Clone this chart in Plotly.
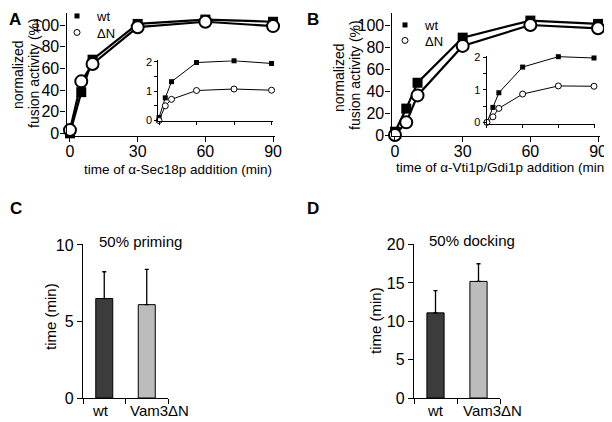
import plotly.graph_objects as go

# time points (min)
time_min = [0, 5, 10, 30, 60, 90]

# panel A: alpha-Sec18p addition, normalized fusion (%)
a_wt = [0, 38, 68, 101, 105, 103]
a_dn = [3, 48, 64, 98, 103, 99]
# panel A inset (raw fusion units)
a_inset_wt = [0.1, 0.77, 1.32, 1.97, 2.03, 1.94]
a_inset_dn = [0.0, 0.5, 0.72, 1.02, 1.07, 1.03]

# panel B: alpha-Vti1p/Gdi1p addition
b_wt = [3, 24, 47.5, 88.5, 104, 101]
b_dn = [0, 11.5, 36, 81, 100, 97]
b_inset_wt = [0.0, 0.46, 0.91, 1.70, 2.02, 1.98]
b_inset_dn = [0.0, 0.17, 0.43, 0.87, 1.12, 1.11]

# panels C and D: time to 50% (min)
strains = ["wt", "Vam3ΔN"]
priming_mean = [6.5, 6.1]
priming_err = [1.75, 2.3]
docking_mean = [11.1, 15.2]
docking_err = [2.9, 2.3]

W, H = 612, 422
OFF = 8  # page margin around the plot div
FONT = "Liberation Sans, Arial, sans-serif"
bar_colors = ["#3c3c3c", "#bcbcbc"]


# screen pixel -> paper fraction
def px(x):
    return (x - OFF) / W


def py(y):
    return 1 - (y - OFF) / H


fig = go.Figure()


def add_curves(xa, ya, wt, dn, big, legends=None):
    lw = 2.2 if big else 1
    for vals in (wt, dn):
        fig.add_trace(go.Scatter(x=time_min, y=vals, mode="lines", xaxis=xa, yaxis=ya,
                                 line=dict(color="black", width=lw), showlegend=False,
                                 hoverinfo="skip", cliponaxis=False))
    fig.add_trace(go.Scatter(
        x=time_min, y=wt, mode="markers", xaxis=xa, yaxis=ya, name="wt",
        marker=dict(symbol="square", size=10 if big else 5, color="black"),
        showlegend=legends is not None, legend=legends[0] if legends else "legend",
        cliponaxis=False))
    fig.add_trace(go.Scatter(
        x=time_min, y=dn, mode="markers", xaxis=xa, yaxis=ya, name="ΔN",
        marker=dict(symbol="circle", size=12 if big else 6, color="white",
                    line=dict(color="black", width=2 if big else 1)),
        showlegend=legends is not None, legend=legends[1] if legends else "legend",
        cliponaxis=False))


# legends take their (small) symbols from the inset traces
add_curves("x", "y", a_wt, a_dn, True)
add_curves("x2", "y2", a_inset_wt, a_inset_dn, False, ("legend", "legend3"))
add_curves("x3", "y3", b_wt, b_dn, True)
add_curves("x4", "y4", b_inset_wt, b_inset_dn, False, ("legend2", "legend4"))

for xa, ya, means, errs in (("x5", "y5", priming_mean, priming_err),
                            ("x6", "y6", docking_mean, docking_err)):
    fig.add_trace(go.Bar(
        x=strains, y=means, xaxis=xa, yaxis=ya, width=0.4, showlegend=False,
        marker=dict(color=bar_colors, line=dict(color="black", width=1)),
        error_y=dict(type="data", array=errs, symmetric=False,
                     arrayminus=[0, 0], color="black", thickness=1.3, width=2)))

axis_common = dict(showline=True, linecolor="black", linewidth=1.3, ticks="outside",
                   tickcolor="black", ticklen=5, tickwidth=1.3, showgrid=False,
                   zeroline=False, tickfont=dict(size=16, color="black"))
inset_common = dict(showline=True, linecolor="black", linewidth=1, ticks="outside",
                    tickcolor="black", ticklen=3, tickwidth=1, showgrid=False,
                    zeroline=False, tickfont=dict(size=11, color="black"))
main_x = dict(axis_common, range=[-1.5, 91], tickvals=[0, 30, 60, 90],
              ticklabelstandoff=-4)
main_y = dict(axis_common, tickvals=[0, 20, 40, 60, 80, 100], ticklabelstandoff=-2)
inset_y = dict(inset_common, tickvals=[0, 0.5, 1, 1.5, 2],
               ticktext=["0", "", "1", "", "2"])
bar_x = dict(axis_common, type="category", tickson="boundaries", range=[-0.5, 1.5],
             showticklabels=False)

legend_style = dict(xanchor="left", yanchor="top", bgcolor="rgba(0,0,0,0)",
                    font=dict(size=13))

fig.update_layout(
    width=W, height=H, margin=dict(l=0, r=0, t=0, b=0, autoexpand=False),
    paper_bgcolor="white", plot_bgcolor="rgba(0,0,0,0)",
    font=dict(family=FONT, color="black", size=14),
    # panel A
    xaxis=dict(main_x, domain=[px(66.6), px(275.3)], anchor="y"),
    yaxis=dict(main_y, domain=[py(135.5), py(13.1)], range=[-2, 111], anchor="x"),
    xaxis2=dict(inset_common, domain=[px(158.4), px(272.8)], range=[-0.5, 91],
                tickvals=[0, 30, 60, 90], showticklabels=False, anchor="y2"),
    yaxis2=dict(inset_y, domain=[py(121.1), py(60.2)], range=[-0.02, 2.05],
                anchor="x2"),
    # panel B
    xaxis3=dict(main_x, domain=[px(391.6), px(600.3)], anchor="y3"),
    yaxis3=dict(main_y, domain=[py(136.1), py(12.9)], range=[-1, 111], anchor="x3"),
    xaxis4=dict(inset_common, domain=[px(486.6), px(595.2)], range=[-0.3, 91],
                tickvals=[0, 30, 60, 90], showticklabels=False, anchor="y4"),
    yaxis4=dict(inset_y, domain=[py(124.3), py(55.7)], range=[-0.06, 2.05],
                anchor="x4"),
    # panel C
    xaxis5=dict(bar_x, domain=[px(83), px(168)], anchor="y5"),
    yaxis5=dict(axis_common, domain=[py(398), py(244.2)], range=[0, 10.05],
                tickvals=[0, 5, 10], anchor="x5"),
    # panel D
    xaxis6=dict(bar_x, domain=[px(414), px(500)], anchor="y6"),
    yaxis6=dict(axis_common, domain=[py(398), py(244.2)], range=[0, 20.05],
                tickvals=[0, 5, 10, 15, 20], anchor="x6"),
    legend=dict(legend_style, x=px(57), y=py(1)),
    legend3=dict(legend_style, x=px(57), y=py(17.5)),
    legend2=dict(legend_style, x=px(385), y=py(10)),
    legend4=dict(legend_style, x=px(385), y=py(25.5)),
)

notes = [
    ("A", 15, 8, 17, 0, True, "top"),
    ("B", 313, 8, 17, 0, True, "top"),
    ("C", 16, 208, 17, 0, True, "middle"),
    ("D", 313, 208, 17, 0, True, "middle"),
    ("normalized", 18, 75, 14, -90, False, "middle"),
    ("fusion activity (%)", 34, 73, 14, -90, False, "middle"),
    ("normalized", 339, 78, 14, -90, False, "middle"),
    ("fusion activity (%)", 355, 75, 14, -90, False, "middle"),
    ("time of α-Sec18p addition (min)", 178, 169, 13.5, 0, False, "middle"),
    ("time of α-Vti1p/Gdi1p addition (min)", 502, 168, 13.5, 0, False, "middle"),
    ("50% priming", 140, 242, 15, 0, False, "middle"),
    ("50% docking", 472, 240, 15, 0, False, "middle"),
    ("time (min)", 50, 317, 15, -90, False, "middle"),
    ("time (min)", 375, 321, 15, -90, False, "middle"),
]
# category labels under the bars, placed as in the original figure
for name, xc, xd in zip(strains, (101, 159), (435, 492)):
    notes.append((name, xc, 410, 15, 0, False, "middle"))
    notes.append((name, xd, 410, 15, 0, False, "middle"))

for text, x, y, size, angle, bold, yanchor in notes:
    fig.add_annotation(
        text=f"<b>{text}</b>" if bold else text, x=px(x), y=py(y),
        xref="paper", yref="paper", showarrow=False, textangle=angle,
        xanchor="center", yanchor=yanchor, font=dict(size=size, color="black"))

fig.write_html("out.html")
